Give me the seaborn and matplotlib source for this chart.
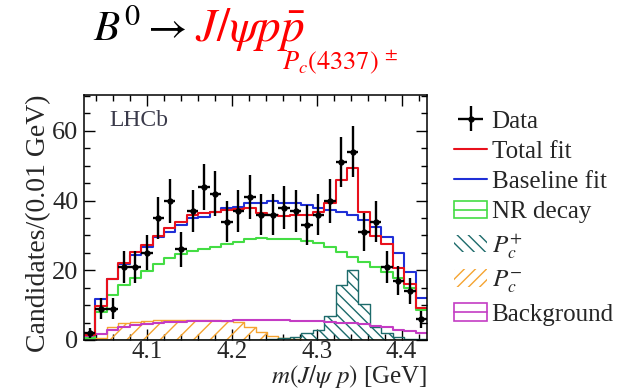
import matplotlib
matplotlib.use("Agg")
import matplotlib.pyplot as plt
import numpy as np
import pandas as pd
import seaborn as sns
from matplotlib.lines import Line2D
from matplotlib.patches import Patch, Rectangle
from matplotlib.legend_handler import HandlerTuple

sns.set_theme(style="ticks")
plt.rcParams['font.family'] = ['Liberation Serif', 'DejaVu Serif']
plt.rcParams['mathtext.fontset'] = 'stix'
plt.rcParams['hatch.linewidth'] = 1.0

# binning in m(J/psi p) [GeV], 30 bins
x_lo, x_hi, n_bins = 4.026, 4.430, 30

# data counts per bin
data_counts = [2, 9, 9, 21, 21, 25, 35, 40, 26, 37, 44, 42, 34, 37, 41,
               36, 36, 38, 37, 33, 36, 40, 51, 54, 31, 34, 21, 17, 14, 6]
total_fit = [1.4, 9.8, 17.4, 22.0, 25.3, 27.3, 29.8, 32.0, 34.0, 35.9,
             36.3, 36.8, 37.3, 37.5, 37.8, 36.3, 35.9, 35.6, 35.9, 35.9,
             36.6, 39.2, 45.9, 49.3, 36.8, 29.8, 27.5, 20.8, 16.0, 9.2]
baseline_fit = [1.5, 11.7, 17.4, 21.8, 24.4, 26.8, 29.5, 31.0, 33.0, 35.0,
                35.4, 36.8, 37.8, 38.3, 39.2, 39.4, 40.0, 39.4, 39.2, 38.7,
                37.8, 37.3, 36.8, 35.9, 34.4, 32.5, 29.5, 25.0, 19.5, 12.0]
nr_decay = [0.5, 8.0, 12.8, 15.8, 17.8, 19.8, 21.8, 23.5, 24.8, 25.6,
            26.2, 26.8, 27.5, 28.2, 28.9, 29.2, 29.0, 28.9, 28.9, 28.5,
            27.7, 26.6, 25.3, 23.9, 22.5, 21.0, 19.6, 17.7, 14.8, 8.6]
pc_plus = [0, 0, 0, 0, 0, 0, 0, 0, 0, 0, 0, 0, 0, 0, 0,
           0, 0.2, 0.5, 1.0, 2.0, 3.0, 7.0, 15.8, 20.2, 10.2, 3.8, 2.0, 1.0, 0.4, 0.2]
pc_minus = [0, 0.5, 3.6, 5.0, 5.3, 5.5, 5.7, 5.8, 5.8, 5.8, 5.8, 5.7, 5.5, 5.1, 3.6,
            2.2, 1.2, 0.6, 0.3, 0.1, 0, 0, 0, 0, 0, 0, 0, 0, 0, 0]
background = [1.0, 1.7, 2.8, 3.6, 4.2, 4.6, 4.9, 5.1, 5.3, 5.4, 5.5, 5.5, 5.5, 5.6, 5.6,
              5.6, 5.6, 5.6, 5.5, 5.5, 5.4, 5.2, 5.0, 4.8, 4.5, 4.0, 3.6, 3.0, 2.5, 1.9]

bin_w = (x_hi - x_lo) / n_bins
centers = x_lo + bin_w * (np.arange(n_bins) + 0.5)
df = pd.DataFrame({'m': centers, 'data': data_counts, 'total': total_fit,
                   'baseline': baseline_fit, 'nr': nr_decay,
                   'pcp': pc_plus, 'pcm': pc_minus, 'bkg': background})

c_red = '#e8101c'
c_blue = '#1f2fd6'
c_green = '#44dd44'
c_teal = '#1d6b6b'
c_orange = '#f5a431'
c_mag = '#c43cc4'

fig = plt.figure(figsize=(6.31, 3.91), dpi=100)
ax = fig.add_axes([84/631, 1 - 340/391, 343/631, 245/391])

hist_kw = dict(data=df, x='m', bins=n_bins, binrange=(x_lo, x_hi), element='step', ax=ax)
# hatched components
sns.histplot(weights='pcm', fill=True, color=c_orange, facecolor='none',
             edgecolor=c_orange, hatch='//', linewidth=1.0, **hist_kw)
sns.histplot(weights='pcp', fill=True, color=c_teal, facecolor='none',
             edgecolor=c_teal, hatch='\\\\\\', linewidth=1.0, **hist_kw)
# step curves
for col, c in [('bkg', c_mag), ('nr', c_green), ('baseline', c_blue), ('total', c_red)]:
    sns.histplot(weights=col, fill=False, color=c, linewidth=1.5, **hist_kw)

err = ax.errorbar(df['m'], df['data'], yerr=np.sqrt(df['data']),
                  xerr=0.5 * bin_w, fmt='o', color='black',
                  markersize=3.5, elinewidth=1.7, capsize=0, zorder=10)

ax.set_xlim(x_lo, x_hi)
ax.set_ylim(0, 70.3)
ax.set_xticks([4.1, 4.2, 4.3, 4.4])
ax.set_xticks(np.arange(4.04, 4.43, 0.02), minor=True)
ax.set_yticks([0, 20, 40, 60])
ax.set_yticks(np.arange(0, 71, 5), minor=True)
ax.tick_params(which='both', direction='in', top=True, right=True, labelsize=19,
               color='black', width=1.0)
ax.tick_params(which='major', length=8, pad=4)
ax.tick_params(axis='x', which='major', pad=1, labelsize=18)
ax.tick_params(which='minor', length=4)
for s in ax.spines.values():
    s.set_color('black')
    s.set_linewidth(1.1)

ax.set_xlabel(r'$m(J/\psi\ p)$ [GeV]', fontsize=18, loc='right', labelpad=0)
ax.set_ylabel('Candidates/(0.01 GeV)', fontsize=20, loc='top', labelpad=1)

ax.text(0.075, 0.875, 'LHCb', transform=ax.transAxes, fontsize=17,
        color='#3a3a4a', va='baseline')

# title
fig.text(93/631, 1 - 41/391, r'$B^0 \rightarrow$', fontsize=31, color='black', va='baseline')
fig.text(195/631, 1 - 41/391, r'$J/\psi p\bar{p}$', fontsize=34, color='red', va='baseline')
fig.text(282/631, 1 - 69/391, r'$P_c(4337)\ ^{\pm}$', fontsize=19, color='red', va='baseline')

handles = [
    err,
    Line2D([], [], color=c_red, lw=1.5),
    Line2D([], [], color=c_blue, lw=1.5),
    (Rectangle((0, 0), 1, 1, fill=False, edgecolor=c_green, lw=1.2),
     Line2D([], [], color=c_green, lw=1.2)),
    Patch(facecolor='none', edgecolor=c_teal, hatch='\\\\\\', lw=0),
    Patch(facecolor='none', edgecolor=c_orange, hatch='///', lw=0),
    (Rectangle((0, 0), 1, 1, fill=False, edgecolor=c_mag, lw=1.2),
     Line2D([], [], color=c_mag, lw=1.2)),
]
labels = ['Data', 'Total fit', 'Baseline fit', 'NR decay',
          r'$P_c^{+}$', r'$P_c^{-}$', 'Background']
fig.legend(handles, labels, loc='upper left', bbox_to_anchor=(454/631, 1 - 110/391),
           frameon=False, fontsize=18, handlelength=1.32, handletextpad=0.18,
           labelspacing=0.31, borderpad=0, borderaxespad=0,
           handler_map={tuple: HandlerTuple(ndivide=1)})

fig.savefig('out.png', dpi=100, facecolor='white')
